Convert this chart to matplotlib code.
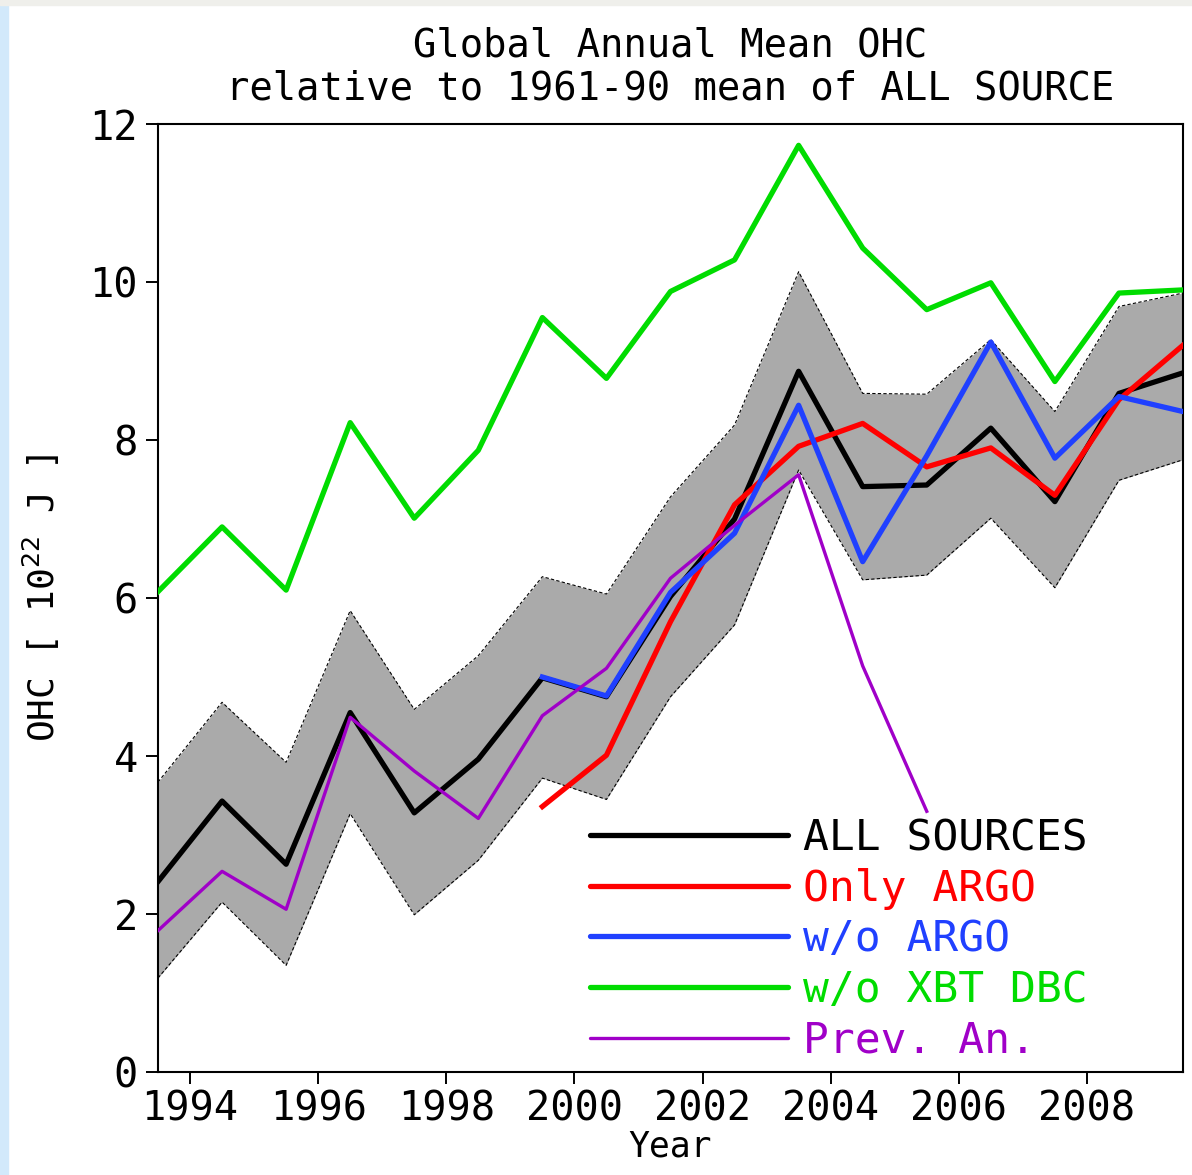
import numpy as np
import matplotlib.pyplot as plt
from matplotlib.patches import Rectangle

plt.rcParams['font.family'] = ['DejaVu Sans Mono', 'DejaVu Sans']

# years are plotted at mid-year
years = np.arange(1994, 2010) - 0.5

all_sources = [2.41, 3.43, 2.63, 4.55, 3.28, 3.96, 4.99, 4.75, 6.02, 7.00,
               8.87, 7.41, 7.43, 8.15, 7.22, 8.59, 8.85]
band_upper = [3.67, 4.68, 3.92, 5.84, 4.59, 5.27, 6.27, 6.05, 7.28, 8.19,
              10.13, 8.59, 8.58, 9.27, 8.36, 9.69, 9.86]
band_lower = [1.19, 2.15, 1.35, 3.27, 1.99, 2.68, 3.72, 3.45, 4.75, 5.66,
              7.62, 6.23, 6.29, 7.01, 6.13, 7.49, 7.75]
only_argo = [3.36, 4.01, 5.70, 7.18, 7.92, 8.21, 7.66, 7.90, 7.30, 8.51, 9.20]
wo_argo = [5.00, 4.76, 6.07, 6.82, 8.44, 6.46, 7.80, 9.24, 7.77, 8.55, 8.36]
wo_xbt = [6.08, 6.90, 6.10, 8.22, 7.01, 7.87, 9.55, 8.78, 9.88, 10.28,
          11.73, 10.43, 9.65, 9.99, 8.74, 9.86, 9.90]
prev_an = [1.79, 2.54, 2.06, 4.49, 3.81, 3.21, 4.51, 5.11, 6.25, 6.92,
           7.56, 5.14, 3.30]

x_all = np.arange(1993.5, 2010.0, 1.0)
x_argo = np.arange(1999.5, 2010.0, 1.0)
x_prev = np.arange(1993.5, 2006.0, 1.0)

fig = plt.figure(figsize=(11.92, 11.75), dpi=100)
# light frame strips around the picture
fig.patches.append(Rectangle((0, 0), 8/1192, 1, transform=fig.transFigure, color='#d2e9fb', zorder=0))
fig.patches.append(Rectangle((0, 1-5/1175), 1, 5/1175, transform=fig.transFigure, color='#efefeb', zorder=0))

ax = fig.add_axes([158/1192, 103/1175, 1025/1192, 948/1175])

ax.fill_between(x_all, band_lower, band_upper, color='#aaaaaa', lw=0, zorder=1)
ax.plot(x_all, band_upper, color='black', lw=0.8, ls=(0, (3, 2)), zorder=1.5)
ax.plot(x_all, band_lower, color='black', lw=0.8, ls=(0, (3, 2)), zorder=1.5)

ax.plot(x_all, all_sources, color='black', lw=3.8, label='ALL SOURCES', zorder=3)
ax.plot(x_argo, only_argo, color='#ff0000', lw=3.8, label='Only ARGO', zorder=3)
ax.plot(x_argo, wo_argo, color='#2040ff', lw=3.8, label='w/o ARGO', zorder=3)
ax.plot(x_all, wo_xbt, color='#00dc00', lw=3.8, label='w/o XBT DBC', zorder=3)
ax.plot(x_prev, prev_an, color='#a000c8', lw=2.4, label='Prev. An.', zorder=3)

ax.set_xlim(1993.5, 2009.5)
ax.set_ylim(0, 12)
ax.set_xticks(np.arange(1994, 2010, 2))
ax.set_yticks(np.arange(0, 13, 2))
ax.tick_params(direction='out', length=8.5, width=1.4, labelsize=29, pad=4)
ax.tick_params(axis='y', pad=6)
for s in ax.spines.values():
    s.set_linewidth(1.5)

ax.set_xlabel('Year', fontsize=25, labelpad=0)
ax.set_ylabel('OHC [ 10$^{22}$ J ]', fontsize=26, labelpad=20)
ax.set_title('Global Annual Mean OHC\nrelative to 1961-90 mean of ALL SOURCE',
             fontsize=28, linespacing=1.15, pad=18)

leg = ax.legend(loc='lower left', bbox_to_anchor=(0.4215, 0.011), frameon=False,
                fontsize=31, handlelength=4.6, handletextpad=0.35,
                labelspacing=0.2, borderpad=0, borderaxespad=0,
                labelcolor='linecolor')
for h in leg.get_lines():
    h.set_solid_capstyle('round')

plt.savefig('out.png', dpi=100)
